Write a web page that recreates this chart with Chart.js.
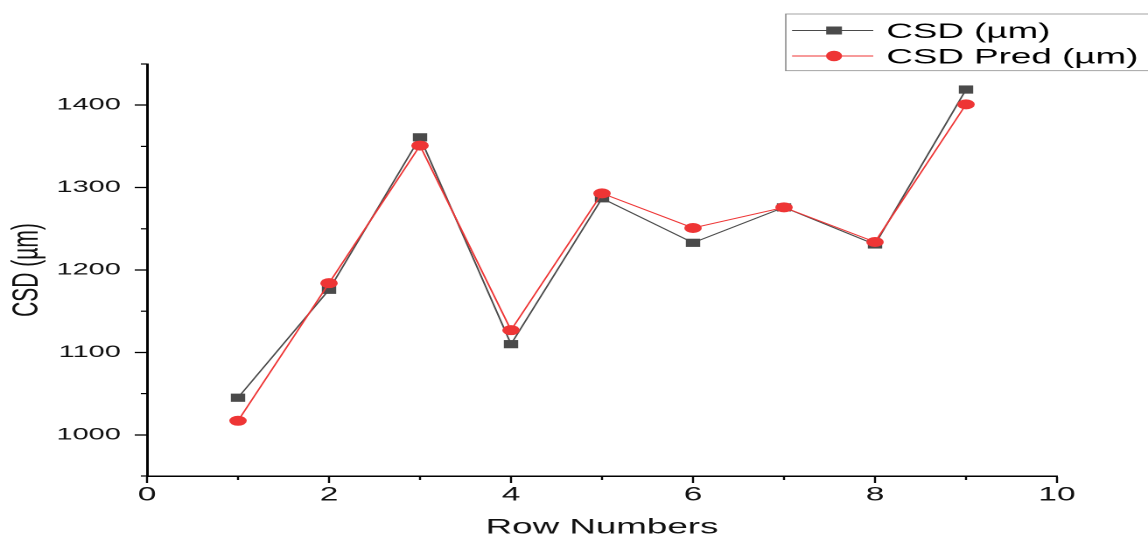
<!DOCTYPE html>
<html>
<head>
<meta charset="utf-8">
<script src="https://cdn.jsdelivr.net/npm/chart.js@4/dist/chart.umd.min.js"></script>
<style>
html, body { margin: 0; padding: 0; background: #fff; overflow: hidden; }
#wrap { width: 656px; height: 538px; transform: scaleX(1.75); transform-origin: 0 0; }
</style>
</head>
<body>
<div id="wrap"><canvas id="c"></canvas></div>
<script>
// ---- data ----
const rowNumbers = [1, 2, 3, 4, 5, 6, 7, 8, 9];
const csd = [1045, 1176, 1361, 1110, 1287, 1233, 1276, 1231, 1419];
const csdPred = [1017, 1184, 1351, 1127, 1293, 1251, 1276, 1234, 1401];
const xTicks = [0, 2, 4, 6, 8, 10];
const xMinorTicks = [1, 3, 5, 7, 9];
const yTicks = [1000, 1100, 1200, 1300, 1400];
const yMinorTicks = [950, 1050, 1150, 1250, 1350, 1450];
const seriesLabels = ['CSD (µm)', 'CSD Pred (µm)'];
const xTitle = 'Row Numbers';
const yTitle = 'CSD (µm)';

const FONT = "'Liberation Sans', Arial, sans-serif";
const GRAY = '#4a4a4a';
const RED = '#ee3535';

const toPoints = (xs, ys) => xs.map((x, i) => ({ x: x, y: ys[i] }));

const minorTicksPlugin = {
  id: 'minorTicks',
  afterDraw(chart) {
    const { ctx } = chart;
    const x = chart.scales.x, y = chart.scales.y;
    ctx.save();
    ctx.strokeStyle = '#000';
    ctx.lineWidth = 1.2;
    xMinorTicks.forEach(v => {
      const px = x.getPixelForValue(v);
      ctx.beginPath(); ctx.moveTo(px, x.top); ctx.lineTo(px, x.top + 4); ctx.stroke();
    });
    yMinorTicks.forEach(v => {
      const py = y.getPixelForValue(v);
      ctx.beginPath(); ctx.moveTo(y.right, py); ctx.lineTo(y.right - 3.5, py); ctx.stroke();
    });
    ctx.restore();
  }
};

const legendPlugin = {
  id: 'boxLegend',
  afterDraw(chart) {
    const { ctx } = chart;
    const boxL = 449, boxT = 14, boxB = 70.7, boxR = 700;
    ctx.save();
    ctx.strokeStyle = '#8c8c8c';
    ctx.lineWidth = 0.8;
    ctx.strokeRect(boxL, boxT, boxR - boxL, boxB - boxT);
    const rowsY = [30.5, 56];
    chart.data.datasets.forEach((ds, i) => {
      const cy = rowsY[i];
      ctx.strokeStyle = ds.borderColor;
      ctx.lineWidth = 1;
      ctx.beginPath(); ctx.moveTo(452.6, cy); ctx.lineTo(499, cy); ctx.stroke();
      ctx.fillStyle = ds.pointBackgroundColor;
      ctx.beginPath();
      if (ds.pointStyle === 'rect') {
        ctx.rect(476.6 - 4.5, cy - 4, 9, 8);
      } else {
        ctx.ellipse(476.6, cy, 4.6, 5.3, 0, 0, Math.PI * 2);
      }
      ctx.fill();
      ctx.fillStyle = '#000';
      ctx.font = '21px ' + FONT;
      ctx.textBaseline = 'alphabetic';
      ctx.textAlign = 'left';
      ctx.fillText(ds.label, 506.5, cy + 7.5);
    });
    ctx.restore();
  }
};

new Chart(document.getElementById('c'), {
  type: 'line',
  data: {
    datasets: [
      {
        label: seriesLabels[0],
        data: toPoints(rowNumbers, csd),
        borderColor: GRAY,
        borderWidth: 1,
        pointStyle: 'rect',
        pointRadius: 5.8,
        pointHoverRadius: 5.8,
        pointBackgroundColor: GRAY,
        pointBorderWidth: 0,
        tension: 0,
        order: 1
      },
      {
        label: seriesLabels[1],
        data: toPoints(rowNumbers, csdPred),
        borderColor: RED,
        borderWidth: 1,
        pointStyle: 'circle',
        pointRadius: 5,
        pointHoverRadius: 5,
        pointBackgroundColor: RED,
        pointBorderWidth: 0,
        tension: 0,
        order: 0
      }
    ]
  },
  options: {
    responsive: true,
    maintainAspectRatio: false,
    devicePixelRatio: 2,
    animation: false,
    events: [],
    layout: { padding: { top: 64, right: 52, bottom: 0, left: 0 } },
    plugins: {
      legend: { display: false },
      tooltip: { enabled: false }
    },
    scales: {
      x: {
        type: 'linear',
        min: 0,
        max: 10,
        afterBuildTicks: (axis) => { axis.ticks = xTicks.map(v => ({ value: v })); },
        afterFit: (axis) => { axis.height = 62; },
        grid: { drawOnChartArea: false, drawTicks: true, tickLength: 7, tickWidth: 1.2, tickColor: '#000' },
        border: { display: true, color: '#000', width: 1.5 },
        ticks: {
          color: '#111',
          padding: 1,
          maxRotation: 0,
          autoSkip: false,
          callback: (v) => String(v),
          font: { family: FONT, size: 19, lineHeight: 1.2 }
        },
        title: {
          display: true,
          text: xTitle,
          color: '#111',
          font: { family: FONT, size: 21, lineHeight: 1 },
          padding: { top: 0, bottom: 0 }
        }
      },
      y: {
        type: 'linear',
        min: 950,
        max: 1450,
        afterBuildTicks: (axis) => { axis.ticks = yTicks.map(v => ({ value: v })); },
        afterFit: (axis) => { axis.width = 84; },
        grid: { drawOnChartArea: false, drawTicks: true, tickLength: 7, tickWidth: 1.3, tickColor: '#000' },
        border: { display: true, color: '#000', width: 1.5 },
        ticks: {
          color: '#111',
          padding: 8,
          autoSkip: false,
          callback: (v) => String(v),
          font: { family: FONT, size: 16.5, lineHeight: 1.2 }
        },
        title: {
          display: true,
          text: yTitle,
          color: '#111',
          font: { family: FONT, size: 21, lineHeight: 1 },
          padding: { top: 5, bottom: 0 }
        }
      }
    }
  },
  plugins: [minorTicksPlugin, legendPlugin]
});
</script>
</body>
</html>
